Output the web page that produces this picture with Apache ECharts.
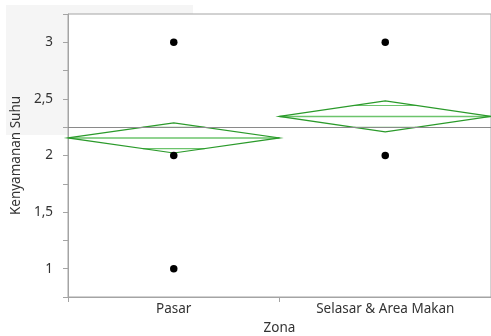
<!DOCTYPE html>
<html>
<head>
<meta charset="utf-8">
<script src="https://cdn.jsdelivr.net/npm/echarts@6/dist/echarts.min.js"></script>
<style>
  html, body { margin: 0; padding: 0; background: #ffffff; }
  #chart { width: 491px; height: 336px; }
</style>
</head>
<body>
<div id="chart"></div>
<script>
// Zones on the x axis
const categories = ['Pasar', 'Selasar & Area Makan'];
// Individual observations (distinct values) per zone
const pasarValues = [3, 2, 1];
const selasarValues = [3, 2];
// Group means and 95% confidence half-widths (means diamonds)
const groupMeans = [2.155, 2.345];
const ciHalfWidths = [0.133, 0.137];
// Overall mean across all zones
const grandMean = 2.25;
// Y axis tick values that carry a label
const yTickLabels = { '1': '1', '1.5': '1,5', '2': '2', '2.5': '2,5', '3': '3' };

const FONT = 'Noto Sans';
const FS = 13.5;
const TEXT = '#333333';
const AXIS = '#a4a4a4';
const DIAMOND = '#2a9a2a';
const INNER = '#6cc46c';

const pointData = [];
pasarValues.forEach(v => pointData.push([0, v]));
selasarValues.forEach(v => pointData.push([1, v]));

const diamondData = categories.map((c, i) => [i, groupMeans[i], ciHalfWidths[i]]);

function renderDiamond(params, api) {
  const cat = api.value(0);
  const mean = api.value(1);
  const half = api.value(2);
  const ov = half / Math.SQRT2;
  const c = api.coord([cat, mean]);
  const bw = api.size([1, 0])[0];
  const hw = bw / 2;
  const x0 = c[0] - hw, x1 = c[0] + hw;
  const yTop = api.coord([cat, mean + half])[1];
  const yBot = api.coord([cat, mean - half])[1];
  const yOvTop = api.coord([cat, mean + ov])[1];
  const yOvBot = api.coord([cat, mean - ov])[1];
  const ovHalf = hw * (1 - 1 / Math.SQRT2);
  return {
    type: 'group',
    children: [
      {
        type: 'line',
        shape: { x1: x0, y1: c[1], x2: x1, y2: c[1] },
        style: { stroke: INNER, lineWidth: 1.6 }
      },
      {
        type: 'line',
        shape: { x1: c[0] - ovHalf, y1: yOvTop, x2: c[0] + ovHalf, y2: yOvTop },
        style: { stroke: INNER, lineWidth: 1.2 }
      },
      {
        type: 'line',
        shape: { x1: c[0] - ovHalf, y1: yOvBot, x2: c[0] + ovHalf, y2: yOvBot },
        style: { stroke: INNER, lineWidth: 1.2 }
      },
      {
        type: 'polygon',
        shape: { points: [[x0, c[1]], [c[0], yTop], [x1, c[1]], [c[0], yBot]] },
        style: { fill: 'none', stroke: DIAMOND, lineWidth: 1.2 }
      }
    ]
  };
}

const chart = echarts.init(document.getElementById('chart'), null, { renderer: 'canvas' });
chart.setOption({
  animation: false,
  backgroundColor: '#ffffff',
  textStyle: { fontFamily: FONT },
  graphic: {
    elements: [
      {
        type: 'rect',
        z: -1,
        shape: { x: 6, y: 5, width: 187, height: 130 },
        style: { fill: '#f5f5f5' },
        silent: true
      }
    ]
  },
  grid: {
    left: 68, right: 0, top: 14, bottom: 39,
    outerBoundsMode: 'none',
    containLabel: false,
    show: true,
    backgroundColor: '#ffffff',
    borderColor: AXIS,
    borderWidth: 1
  },
  xAxis: {
    type: 'category',
    data: categories,
    boundaryGap: true,
    name: 'Zona',
    nameLocation: 'middle',
    nameGap: 24,
    nameTextStyle: { color: TEXT, fontSize: FS, fontFamily: FONT },
    axisLine: { show: true, lineStyle: { color: AXIS, width: 1 } },
    axisTick: { show: true, length: 5, alignWithLabel: false, lineStyle: { color: AXIS } },
    axisLabel: { color: TEXT, fontSize: FS, fontFamily: FONT, margin: 5 },
    splitLine: { show: false }
  },
  yAxis: {
    type: 'value',
    min: 0.75,
    max: 3.25,
    interval: 0.25,
    name: 'Kenyamanan Suhu',
    nameLocation: 'middle',
    nameGap: 40,
    nameTextStyle: { color: TEXT, fontSize: FS, fontFamily: FONT },
    axisLine: { show: true, lineStyle: { color: AXIS, width: 1 } },
    axisTick: { show: true, length: 5, lineStyle: { color: AXIS } },
    axisLabel: {
      color: TEXT, fontSize: FS, fontFamily: FONT, margin: 15,
      formatter: v => {
        const k = String(Math.round(v * 100) / 100);
        return yTickLabels[k] || '';
      }
    },
    splitLine: { show: false }
  },
  series: [
    {
      type: 'scatter',
      data: pointData,
      symbol: 'circle',
      symbolSize: 7.5,
      itemStyle: { color: '#000000', opacity: 1 },
      z: 5,
      markLine: {
        silent: true,
        symbol: 'none',
        label: { show: false },
        lineStyle: { color: '#8a8a8a', width: 1, type: 'solid' },
        data: [{ yAxis: grandMean }]
      }
    },
    {
      type: 'custom',
      data: diamondData,
      renderItem: renderDiamond,
      z: 3
    }
  ]
});
</script>
</body>
</html>
